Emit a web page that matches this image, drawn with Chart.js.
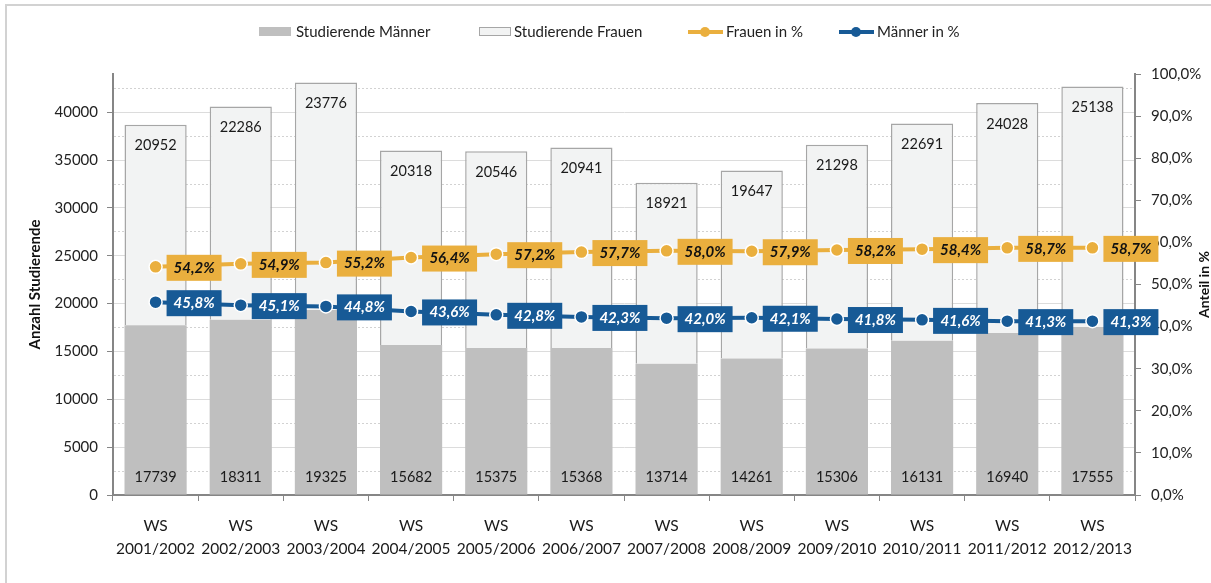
<!DOCTYPE html>
<html>
<head>
<meta charset="utf-8">
<script src="https://cdn.jsdelivr.net/npm/chart.js@4/dist/chart.umd.min.js"></script>
<style>
  body { margin: 0; background: #fff; font-family: Lato, "Open Sans", sans-serif; }
  #wrap { position: relative; width: 1211px; height: 583px; overflow: hidden; }
  #frame { position: absolute; left: 5px; top: 4px; width: 1400px; height: 800px;
           border-left: 2px solid #d2d2d2; border-top: 2px solid #d2d2d2; }
  #chart { position: absolute; left: 0; top: 0; }
  .lg { position: absolute; top: 22px; height: 18px; line-height: 18px; font-size: 15px; color: #222; white-space: nowrap; }
  .box { position: absolute; top: 27px; height: 9px; }
  .ln { position: absolute; top: 30px; height: 4px; width: 35px; }
  .dot { position: absolute; top: 27px; width: 10px; height: 10px; border-radius: 50%; }
</style>
</head>
<body>
<div id="wrap">
  <div id="frame"></div>
  <canvas id="chart" width="1211" height="583"></canvas>
  <!-- Legende -->
  <div class="box" style="left:259px;width:32px;background:#bfbfbf"></div>
  <div class="lg" style="left:296px">Studierende Männer</div>
  <div class="box" style="left:479px;width:30px;height:7px;background:#f2f3f3;border:1px solid #a6a6a6"></div>
  <div class="lg" style="left:514px">Studierende Frauen</div>
  <div class="ln" style="left:688px;background:#eaaf3e"></div>
  <div class="dot" style="left:700px;background:#eaaf3e"></div>
  <div class="lg" style="left:726px">Frauen in %</div>
  <div class="ln" style="left:839px;background:#175a96"></div>
  <div class="dot" style="left:851px;background:#175a96"></div>
  <div class="lg" style="left:877px">Männer in %</div>
</div>
<script>
// Daten
const semester = ['2001/2002', '2002/2003', '2003/2004', '2004/2005', '2005/2006', '2006/2007',
  '2007/2008', '2008/2009', '2009/2010', '2010/2011', '2011/2012', '2012/2013'];
const maenner = [17739, 18311, 19325, 15682, 15375, 15368, 13714, 14261, 15306, 16131, 16940, 17555];
const frauen = [20952, 22286, 23776, 20318, 20546, 20941, 18921, 19647, 21298, 22691, 24028, 25138];
const frauenPct = [54.2, 54.9, 55.2, 56.4, 57.2, 57.7, 58.0, 57.9, 58.2, 58.4, 58.7, 58.7];
const maennerPct = [45.8, 45.1, 44.8, 43.6, 42.8, 42.3, 42.0, 42.1, 41.8, 41.6, 41.3, 41.3];

const orange = '#eaaf3e';
const blue = '#175a96';
const axisGray = '#868686';
const fontFam = 'Lato, "Open Sans", sans-serif';

const fmtPct = v => v.toFixed(1).replace('.', ',') + '%';
const isMinor = c => c.tick && c.tick.value % 5000 !== 0;

// Beschriftungen der Balken und Linienpunkte
const labelPlugin = {
  id: 'valueLabels',
  afterDatasetsDraw(chart) {
    const ctx = chart.ctx;
    ctx.save();
    ctx.textAlign = 'center';
    ctx.textBaseline = 'middle';
    ctx.font = '14.5px ' + fontFam;
    ctx.fillStyle = '#1a1a1a';
    chart.getDatasetMeta(0).data.forEach((bar, i) => {
      ctx.fillText(String(maenner[i]), bar.x, bar.base - 17);
    });
    chart.getDatasetMeta(1).data.forEach((bar, i) => {
      ctx.fillText(String(frauen[i]), bar.x, bar.y + 21);
    });
    const sets = [[2, frauenPct, orange, '#111'], [3, maennerPct, blue, '#fff']];
    sets.forEach(([idx, vals, bg, fg]) => {
      chart.getDatasetMeta(idx).data.forEach((pt, i) => {
        ctx.fillStyle = bg;
        ctx.fillRect(pt.x + 11, pt.y - 12, 55, 26);
        ctx.fillStyle = fg;
        ctx.font = 'italic bold 15px ' + fontFam;
        ctx.fillText(fmtPct(vals[i]), pt.x + 38.5, pt.y + 1);
      });
    });
    // rechter Achsentitel (von unten nach oben)
    const area = chart.chartArea;
    ctx.translate(1204, (area.top + area.bottom) / 2);
    ctx.rotate(-Math.PI / 2);
    ctx.font = 'bold 14px ' + fontFam;
    ctx.fillStyle = '#111';
    ctx.fillText('Anteil in %', 0, 0);
    ctx.restore();
  }
};

const ctx = document.getElementById('chart').getContext('2d');
const chart = new Chart(ctx, {
  type: 'bar',
  data: {
    labels: semester.map(s => ['WS', s]),
    datasets: [
      {
        label: 'Studierende Männer',
        data: maenner,
        backgroundColor: '#bfbfbf',
        borderWidth: 0,
        yAxisID: 'y',
        order: 2
      },
      {
        label: 'Studierende Frauen',
        data: frauen,
        backgroundColor: '#f2f3f3',
        borderColor: '#a6a6a6',
        borderWidth: 1.5,
        yAxisID: 'y',
        order: 2
      },
      {
        type: 'line',
        label: 'Frauen in %',
        data: frauenPct,
        borderColor: orange,
        backgroundColor: orange,
        borderWidth: 4,
        pointRadius: 6.5,
        pointBorderColor: '#fff',
        pointBorderWidth: 1.5,
        yAxisID: 'y1',
        order: 0
      },
      {
        type: 'line',
        label: 'Männer in %',
        data: maennerPct,
        borderColor: blue,
        backgroundColor: blue,
        borderWidth: 4,
        pointRadius: 6.5,
        pointBorderColor: '#fff',
        pointBorderWidth: 1.5,
        yAxisID: 'y1',
        order: 0
      }
    ]
  },
  options: {
    responsive: false,
    animation: false,
    devicePixelRatio: 1,
    layout: { padding: { top: 74, left: 0, right: 0, bottom: 0 } },
    datasets: {
      bar: { barPercentage: 0.73, categoryPercentage: 1.0 }
    },
    plugins: {
      legend: { display: false },
      tooltip: { enabled: false }
    },
    scales: {
      x: {
        stacked: true,
        grid: { drawOnChartArea: false, tickLength: 6, tickColor: axisGray, tickWidth: 1 },
        border: { color: axisGray, width: 2 },
        ticks: { color: '#1a1a1a', font: { family: fontFam, size: 15.5, lineHeight: 1.45 }, padding: 14, maxRotation: 0 },
        afterFit(scale) { scale.height = 88; }
      },
      y: {
        stacked: true,
        position: 'left',
        min: 0,
        max: 44000,
        afterBuildTicks(scale) {
          const t = [];
          for (let v = 0; v <= 42500; v += 2500) t.push({ value: v });
          scale.ticks = t;
        },
        ticks: {
          autoSkip: false,
          color: '#222',
          padding: 9,
          font: { family: fontFam, size: 15 },
          callback: v => (v % 5000 === 0 ? String(v) : '')
        },
        grid: {
          color: c => (isMinor(c) ? '#d2d2d2' : '#dcdcdc'),
          lineWidth: 1,
          tickLength: 6,
          tickColor: c => (isMinor(c) ? 'rgba(0,0,0,0)' : axisGray)
        },
        border: {
          color: axisGray,
          width: 2,
          dash: c => (isMinor(c) ? [2, 2] : [])
        },
        title: {
          display: true,
          text: 'Anzahl Studierende',
          color: '#111',
          font: { family: fontFam, size: 15, weight: 'bold' },
          padding: { top: 26, bottom: 0 }
        },
        afterFit(scale) { scale.width = 113; }
      },
      y1: {
        position: 'right',
        stacked: false,
        min: 0,
        max: 100,
        ticks: {
          stepSize: 10,
          color: '#222',
          padding: 10,
          font: { family: fontFam, size: 15 },
          callback: v => fmtPct(v)
        },
        grid: { drawOnChartArea: false, tickLength: 6, tickColor: axisGray },
        border: { color: axisGray, width: 2 },
        afterFit(scale) { scale.width = 76; }
      }
    }
  },
  plugins: [labelPlugin]
});
</script>
</body>
</html>
